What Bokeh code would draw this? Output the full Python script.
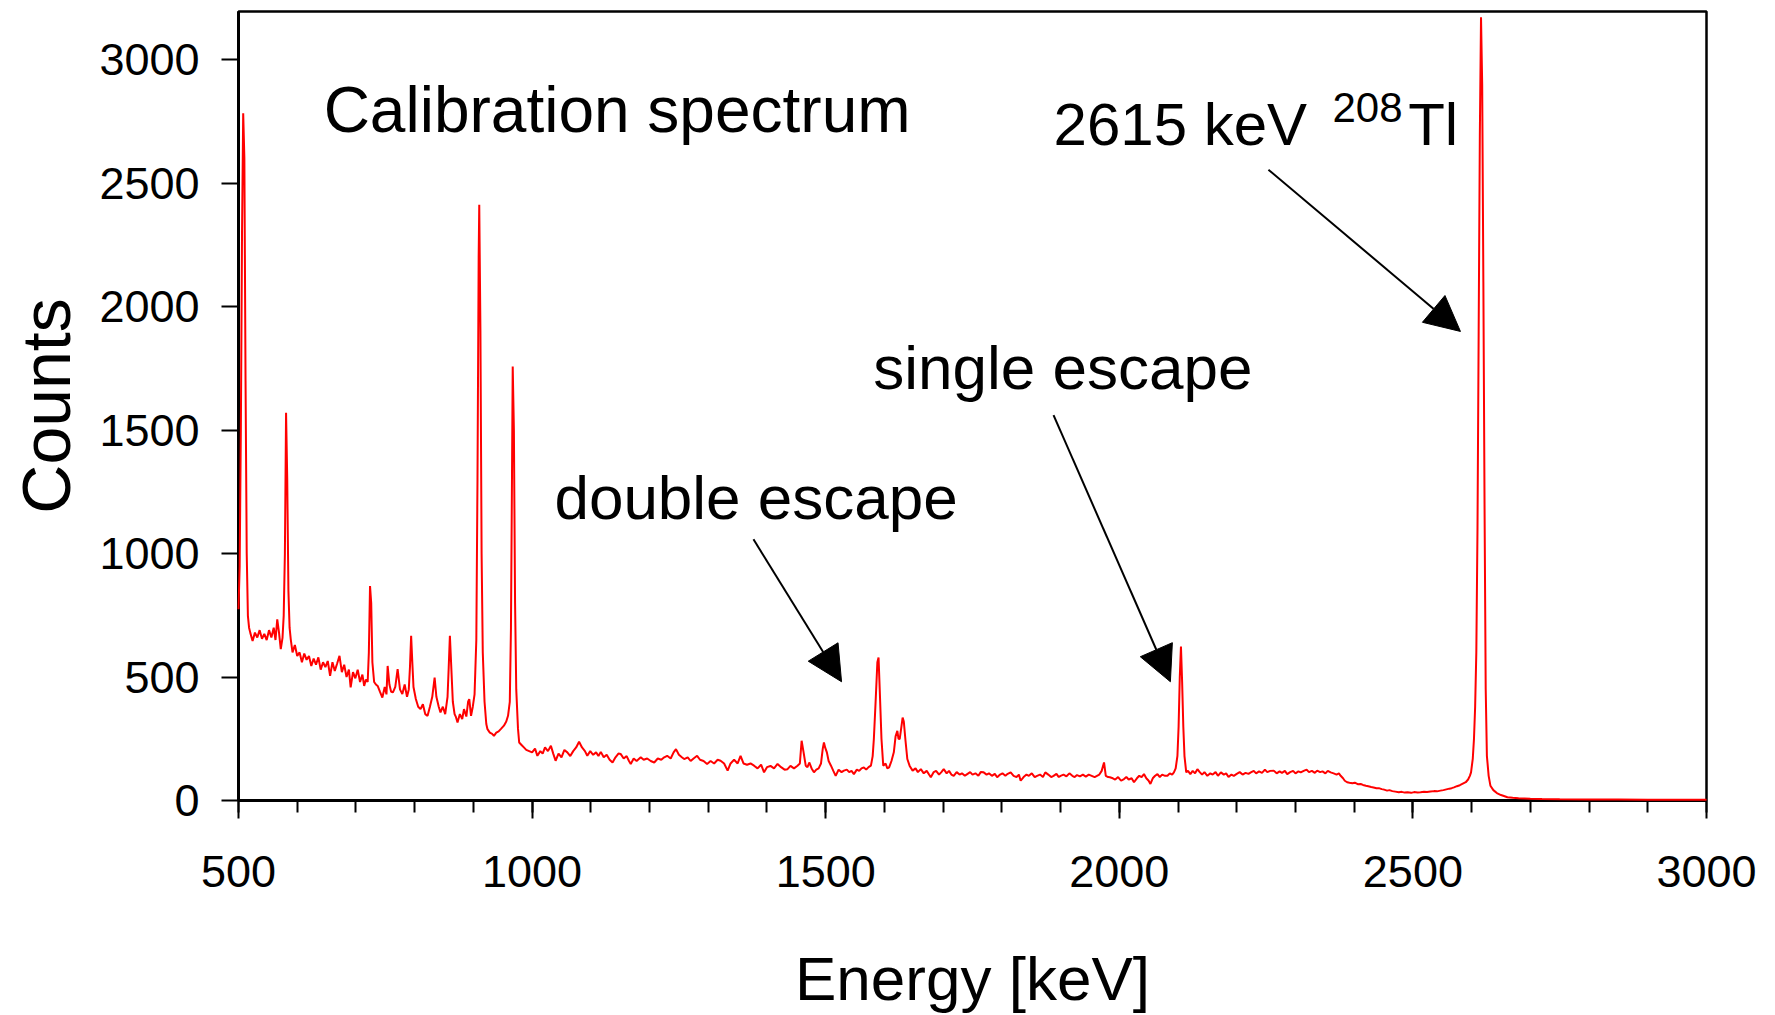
from bokeh.plotting import figure
from bokeh.models import Range1d, FixedTicker, Arrow, NormalHead, Label
from bokeh.embed import file_html
from bokeh.resources import INLINE

# ---------------- data ----------------
energy_kev = [
    500, 502, 504, 506, 508, 510, 512, 514, 516, 518, 520, 524, 528, 532, 536, 540, 544, 548, 552, 556,
    560, 563, 566, 569, 572, 575, 577, 579, 581, 583, 585, 587, 589, 592, 596, 600,
    604, 608, 612, 616, 620, 624, 628, 632, 636, 640, 644, 648, 652, 656, 660, 664, 668, 672, 676, 680,
    684, 688, 691, 695, 699, 703, 707, 711, 714, 717, 720, 722, 724, 726, 728, 731, 734, 737, 741, 745,
    749, 752, 754, 757, 760, 763, 767, 771, 775, 779, 783, 787, 790, 792, 794, 796, 798, 802, 806, 810,
    814, 818, 822, 826, 830, 834, 837, 841, 844, 848, 852, 856, 858, 860, 862, 865, 868, 870, 873, 877,
    881, 884, 888, 891, 893, 896, 899, 902, 905, 907, 909, 910, 912, 914, 916, 919, 922, 924, 928, 932,
    935, 939, 943, 947, 952, 956, 959, 962, 964, 966, 967, 969, 971, 973, 976, 978, 982, 986, 990, 995,
    1000, 1005, 1009, 1014, 1018, 1022, 1027, 1032, 1036, 1040, 1045, 1050, 1055, 1060, 1065, 1070,
    1075, 1080, 1085, 1090, 1094, 1099, 1104, 1109, 1113, 1117, 1122, 1127, 1132, 1137, 1142, 1147,
    1151, 1156, 1161, 1165, 1168, 1173, 1178, 1185, 1190, 1196, 1202, 1208, 1214, 1220, 1225, 1230,
    1236, 1241, 1245, 1250, 1255, 1259, 1265, 1270, 1275, 1281, 1286, 1292, 1298, 1304, 1310, 1316,
    1321, 1327, 1333, 1338, 1344, 1350, 1355, 1360, 1366, 1372, 1378, 1384, 1390, 1395, 1400, 1406,
    1412, 1418, 1424, 1430, 1435, 1440, 1446, 1452, 1456, 1459, 1462, 1466, 1469, 1472, 1476, 1480,
    1484, 1488, 1492, 1495, 1497, 1499, 1502, 1505, 1509, 1513, 1517, 1522, 1527, 1531, 1536, 1540,
    1544, 1548, 1553, 1557, 1561, 1565, 1569, 1573, 1577, 1580, 1582, 1585, 1588, 1590, 1592, 1595,
    1598, 1602, 1605, 1608, 1612, 1616, 1619, 1622, 1624, 1626, 1629, 1631, 1633, 1636, 1639, 1643,
    1648, 1653, 1657, 1662, 1667, 1672, 1676, 1679, 1684, 1688, 1693, 1697, 1701, 1706, 1710, 1714,
    1718, 1723, 1728, 1732, 1737, 1741, 1746, 1750, 1755, 1760, 1764, 1769, 1774, 1778, 1783, 1788,
    1792, 1797, 1801, 1806, 1810, 1815, 1820, 1825, 1829, 1832, 1837, 1842, 1846, 1851, 1856, 1860,
    1865, 1870, 1874, 1879, 1884, 1888, 1893, 1897, 1900, 1905, 1910, 1915, 1920, 1924, 1928, 1933,
    1938, 1943, 1948, 1953, 1958, 1962, 1966, 1970, 1974, 1977, 1981, 1984, 1989, 1993, 1998, 2003,
    2008, 2012, 2016, 2021, 2025, 2030, 2034, 2038, 2042, 2046, 2050, 2053, 2057, 2061, 2065, 2069,
    2073, 2078, 2082, 2086, 2090, 2093, 2096, 2099, 2101, 2103, 2105, 2107, 2109, 2111, 2114, 2117,
    2121, 2125, 2129, 2133, 2137, 2141, 2145, 2150, 2155, 2159, 2164, 2168, 2173, 2178, 2182, 2186,
    2191, 2195, 2200, 2205, 2210, 2215, 2220, 2224, 2229, 2233, 2238, 2243, 2248, 2252, 2257, 2263,
    2268, 2273, 2277, 2282, 2286, 2291, 2296, 2300, 2305, 2309, 2314, 2319, 2323, 2328, 2333, 2337,
    2342, 2346, 2351, 2355, 2360, 2365, 2370, 2374, 2377, 2381, 2384, 2388, 2392, 2397, 2401, 2406,
    2411, 2415, 2420, 2424, 2429, 2433, 2438, 2442, 2447, 2451, 2456, 2460, 2465, 2470, 2476, 2481,
    2486, 2491, 2497, 2502, 2508, 2513, 2519, 2524, 2530, 2536, 2541, 2547, 2552, 2557, 2562, 2566,
    2570, 2575, 2580, 2585, 2590, 2594, 2597, 2599, 2602, 2604, 2606, 2608, 2610, 2612, 2614, 2616,
    2618, 2620, 2622, 2624, 2626, 2629, 2632, 2637, 2643, 2650, 2655, 2661, 2670, 2680, 2690, 2700,
    2720, 2750, 2800, 2850, 2900, 2950, 3000,
]

counts = [
    775, 950, 1500, 2300, 2784, 2600, 1700, 1000, 748, 700, 680, 646, 680, 660, 690, 655, 675, 650, 690, 660,
    700, 650, 734, 680, 613, 660, 750, 1000, 1571, 1300, 850, 700, 653, 600, 630, 585,
    600, 560, 595, 570, 585, 545, 575, 550, 580, 530, 560, 540, 565, 505, 560, 525, 555, 586, 520, 550,
    500, 530, 458, 520, 495, 530, 480, 510, 464, 490, 480, 600, 869, 800, 560, 480, 470, 464, 440, 417,
    460, 430, 545, 470, 440, 438, 460, 532, 450, 431, 470, 420, 450, 540, 667, 560, 460, 411, 380, 370,
    390, 350, 343, 380, 420, 498, 420, 380, 357, 380, 350, 420, 540, 667, 560, 400, 350, 340, 316, 350,
    330, 370, 340, 400, 411, 343, 380, 430, 650, 1300, 2200, 2413, 1900, 1000, 600, 400, 310, 289, 275, 270,
    262, 275, 280, 290, 303, 320, 343, 400, 700, 1400, 1758, 1500, 800, 450, 290, 235, 225, 215, 205, 200,
    195, 210, 181, 200, 190, 215, 200, 222, 190, 161, 190, 175, 205, 195, 180, 200,
    215, 238, 215, 200, 181, 200, 185, 195, 180, 197, 175, 185, 165, 154, 175, 190,
    188, 170, 180, 160, 148, 170, 160, 175, 165, 170, 160, 154, 170, 165, 175, 181,
    170, 195, 208, 185, 175, 168, 175, 160, 170, 181, 165, 160, 148, 160, 150, 165,
    161, 150, 121, 150, 165, 150, 181, 150, 145, 150, 141, 130, 145, 114, 135, 140,
    130, 148, 135, 125, 127, 140, 130, 141, 150, 242, 200, 141, 135, 154, 130, 114,
    125, 130, 150, 210, 235, 215, 195, 160, 141, 120, 100, 125, 115, 121, 125, 115,
    120, 107, 125, 120, 130, 134, 125, 135, 141, 180, 249, 400, 560, 579, 450, 249,
    141, 150, 130, 134, 160, 195, 260, 282, 250, 249, 300, 336, 320, 240, 168, 140,
    121, 130, 115, 127, 110, 120, 105, 94, 115, 120, 105, 115, 127, 110, 120, 105,
    100, 115, 105, 110, 100, 107, 115, 105, 110, 100, 115, 114, 105, 110, 100, 108,
    94, 105, 110, 100, 108, 114, 100, 95, 105, 80, 95, 105, 100, 110, 95, 100,
    105, 95, 114, 105, 95, 100, 108, 95, 100, 105, 98, 110, 100, 95, 103, 98,
    105, 97, 105, 100, 95, 100, 105, 120, 154, 100, 95, 94, 90, 85, 95, 80,
    87, 95, 85, 90, 74, 90, 100, 95, 107, 90, 80, 67, 90, 100, 107, 95,
    105, 100, 100, 110, 105, 114, 130, 181, 300, 500, 624, 480, 300, 180, 114, 120,
    107, 120, 110, 127, 115, 105, 115, 100, 110, 105, 115, 100, 114, 105, 110, 95,
    105, 100, 108, 115, 105, 112, 108, 114, 120, 110, 118, 112, 125, 115, 120, 121,
    110, 118, 112, 120, 107, 115, 120, 110, 118, 114, 120, 125, 115, 120, 112, 121,
    115, 118, 110, 120, 114, 110, 105, 110, 100, 90, 80, 74, 72, 70, 72, 66,
    67, 63, 60, 58, 55, 53, 50, 50, 46, 44, 40, 42, 38, 36, 33, 35,
    32, 33, 31, 34, 32, 33, 35, 34, 36, 38, 37, 40, 42, 45, 48, 50,
    53, 58, 62, 68, 74, 85, 100, 114, 170, 249, 380, 600, 1100, 1900, 2700, 3173,
    2900, 2100, 1200, 451, 181, 100, 60, 42, 30, 22, 18, 13, 11, 9, 8, 7,
    6, 5, 4, 4, 3, 3, 3,
]

x_ticks = [500, 1000, 1500, 2000, 2500, 3000]
x_minor_ticks = [500, 600, 700, 800, 900, 1000, 1100, 1200, 1300, 1400, 1500, 1600, 1700, 1800,
                 1900, 2000, 2100, 2200, 2300, 2400, 2500, 2600, 2700, 2800, 2900, 3000]
y_ticks = [0, 500, 1000, 1500, 2000, 2500, 3000]

title_text = "Calibration spectrum"
peak_label = "2615 keV "
isotope_mass = "208"
isotope_symbol = "Tl"
single_label = "single escape"
double_label = "double escape"

# arrows: (x_start, y_start, x_end, y_end) in data units
arrow_2615 = (2254, 2555, 2581, 1900)
arrow_single = (1888, 1561, 2087, 481)
arrow_double = (1377, 1058, 1527, 481)

FONT = "Liberation Sans"

p = figure(width=1775, height=1015, output_backend="svg", toolbar_location=None,
           x_range=Range1d(500, 3000), y_range=Range1d(0, 3196),
           min_border_left=238, min_border_right=69, min_border_top=11, min_border_bottom=213)
p.background_fill_color = "white"
p.border_fill_color = "white"
p.grid.visible = False
p.outline_line_color = "black"
p.outline_line_width = 2.5

xa = p.xaxis[0]
xa.ticker = FixedTicker(ticks=x_ticks, minor_ticks=x_minor_ticks)
xa.major_tick_out = 18
xa.major_tick_in = 0
xa.minor_tick_out = 12
xa.minor_tick_in = 0
xa.major_tick_line_width = 2
xa.minor_tick_line_width = 2
xa.major_tick_line_color = "black"
xa.minor_tick_line_color = "black"
xa.axis_line_width = 3
xa.axis_line_color = "black"
xa.major_label_text_font = FONT
xa.major_label_text_font_size = "45px"
xa.major_label_text_color = "black"
xa.major_label_standoff = 37
xa.axis_label = "Energy [keV]"
xa.axis_label_text_font = FONT
xa.axis_label_text_font_size = "62px"
xa.axis_label_text_font_style = "normal"
xa.axis_label_text_color = "black"
xa.axis_label_standoff = 54

ya = p.yaxis[0]
ya.ticker = FixedTicker(ticks=y_ticks, minor_ticks=[])
ya.major_tick_out = 17
ya.major_tick_in = 0
ya.minor_tick_out = 0
ya.minor_tick_in = 0
ya.major_tick_line_width = 2
ya.major_tick_line_color = "black"
ya.axis_line_width = 3
ya.axis_line_color = "black"
ya.major_label_text_font = FONT
ya.major_label_text_font_size = "45px"
ya.major_label_text_color = "black"
ya.major_label_standoff = 22
ya.axis_label = "Counts"
ya.axis_label_text_font = FONT
ya.axis_label_text_font_size = "68px"
ya.axis_label_text_font_style = "normal"
ya.axis_label_text_color = "black"
ya.axis_label_standoff = 12

r = p.line(energy_kev, counts, line_color="#ff0000", line_width=2)
r.level = "overlay"

def add_label(x, y, text, size):
    p.add_layout(Label(x=x, y=y, text=text, text_font=FONT, text_font_size=size,
                       text_color="black", text_baseline="alphabetic", text_align="left"))

add_label(645, 2797, title_text, "64px")
add_label(1888, 2737, peak_label, "60px")
add_label(2363, 2806, isotope_mass, "42px")
add_label(2492, 2737, isotope_symbol, "60px")
add_label(1581, 1754, single_label, "62px")
add_label(1038, 1226, double_label, "62px")

for (xs, ys, xe, ye) in (arrow_2615, arrow_single, arrow_double):
    p.add_layout(Arrow(end=NormalHead(size=35, fill_color="black", line_color="black", line_width=1),
                       x_start=xs, y_start=ys, x_end=xe, y_end=ye,
                       line_color="black", line_width=2))

open("out.html", "w").write(file_html(p, INLINE))
